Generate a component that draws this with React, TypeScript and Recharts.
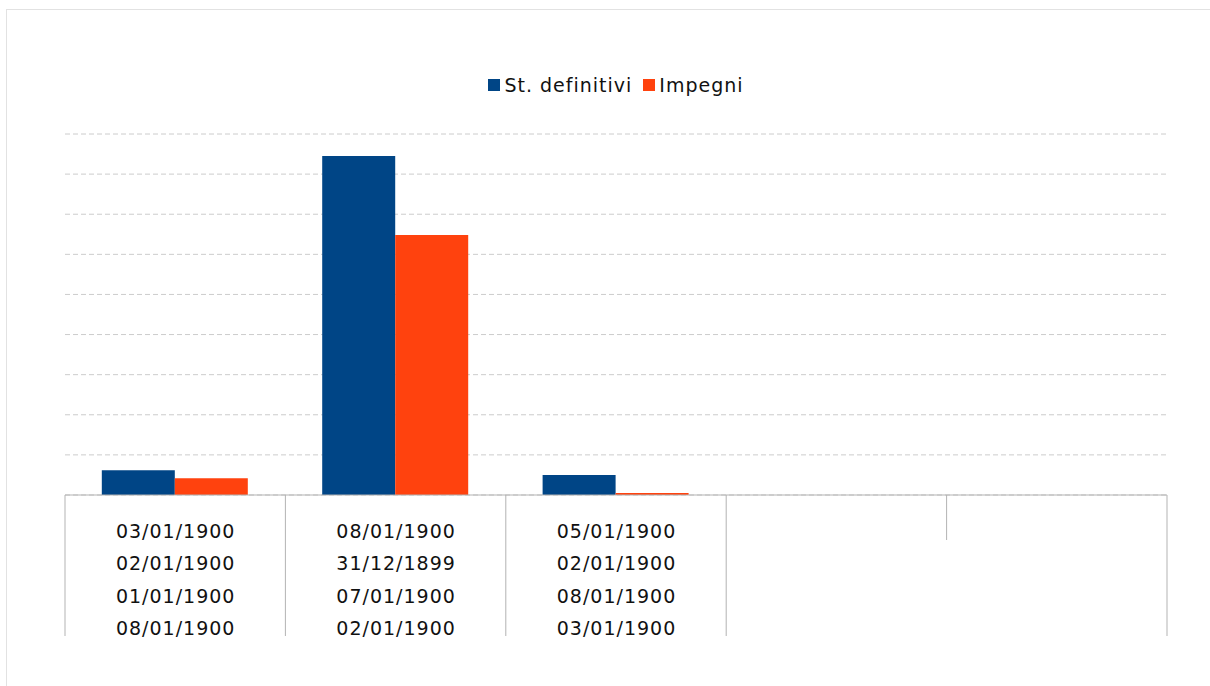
import React from "react";
import { Bar, BarChart, CartesianGrid, Legend, XAxis, YAxis } from "recharts";

// category labels (each category shows a stack of dates)
const categoryLabels: string[][] = [
  ["03/01/1900", "02/01/1900", "01/01/1900", "08/01/1900"],
  ["08/01/1900", "31/12/1899", "07/01/1900", "02/01/1900"],
  ["05/01/1900", "02/01/1900", "08/01/1900", "03/01/1900"],
  [],
  [],
];
const stDefinitivi = [0.62, 8.45, 0.5, null, null];
const impegni = [0.42, 6.48, 0.05, null, null];
const yTicks = [0, 1, 2, 3, 4, 5, 6, 7, 8, 9];

const SERIES = [
  { key: "stDefinitivi", name: "St. definitivi", color: "#004586" },
  { key: "impegni", name: "Impegni", color: "#FF420E" },
];

const data = categoryLabels.map((lines, i) => ({
  cat: `c${i}`,
  lines,
  stDefinitivi: stDefinitivi[i],
  impegni: impegni[i],
}));

const W = 1210;
const H = 686;
const MARGIN = { top: 70, right: 43, bottom: 50, left: 65 };
const PLOT_W = W - MARGIN.left - MARGIN.right;
const BAND = PLOT_W / categoryLabels.length;
const FONT = "'DejaVu Sans', sans-serif";
const AXIS_GRAY = "#b3b3b3";

function DateTick(props: any) {
  const { x, y, payload } = props;
  const idx: number = payload.index;
  const lines = categoryLabels[idx] || [];
  const prev = categoryLabels[idx - 1];
  const leftFull = lines.length > 0 || (prev && prev.length > 0) || idx === 0;
  const left = x - BAND / 2;
  const right = x + BAND / 2;
  return (
    <g>
      <line x1={left} x2={left} y1={y} y2={y + 141} stroke={AXIS_GRAY} strokeWidth={1} display={leftFull ? undefined : "none"} />
      {!leftFull && <line x1={left} x2={left} y1={y} y2={y + 45} stroke={AXIS_GRAY} strokeWidth={1} />}
      {idx === categoryLabels.length - 1 && (
        <line x1={right} x2={right} y1={y} y2={y + 141} stroke={AXIS_GRAY} strokeWidth={1} />
      )}
      {lines.map((t, i) => (
        <text
          key={i}
          x={x + 0.5}
          y={y + 36 + i * 32.4}
          textAnchor="middle"
          dominantBaseline="central"
          fontFamily={FONT}
          fontSize={19}
          letterSpacing={1}
          fill="#111"
        >
          {t}
        </text>
      ))}
    </g>
  );
}

function LegendRow() {
  return (
    <div
      style={{
        display: "flex",
        justifyContent: "center",
        alignItems: "center",
        height: 30,
        fontFamily: FONT,
        fontSize: 19,
        letterSpacing: 1,
        color: "#111",
      }}
    >
      {SERIES.map((s, i) => (
        <span key={s.key} style={{ display: "flex", alignItems: "center", marginLeft: i ? 11 : 0 }}>
          <span style={{ width: 12, height: 12, background: s.color, marginRight: 4 }} />
          {s.name}
        </span>
      ))}
    </div>
  );
}

export default function App() {
  return (
    <div style={{ position: "absolute", left: 0, top: 0, width: W, height: H, overflow: "hidden", background: "#fff" }}>
      <div
        style={{
          position: "absolute",
          left: 6,
          top: 9,
          width: W,
          height: H,
          border: "1px solid #e2e2e2",
        }}
      />
      <div style={{ position: "absolute", left: 0, top: 0 }}>
        <BarChart width={W} height={H} data={data} margin={MARGIN} barCategoryGap="16.7%" barGap={0}>
          <CartesianGrid vertical={false} stroke="#cccccc" strokeDasharray="5 3" />
          <XAxis
            dataKey="cat"
            height={141}
            tickLine={false}
            tickSize={0}
            tickMargin={0}
            interval={0}
            axisLine={{ stroke: AXIS_GRAY }}
            tick={<DateTick />}
          />
          <YAxis hide domain={[0, 9]} ticks={yTicks} />
          <Legend
            verticalAlign="top"
            align="center"
            wrapperStyle={{ height: 64 }}
            content={() => <LegendRow />}
          />
          {SERIES.map((s) => (
            <Bar key={s.key} dataKey={s.key} name={s.name} fill={s.color} isAnimationActive={false} />
          ))}
        </BarChart>
      </div>
    </div>
  );
}
